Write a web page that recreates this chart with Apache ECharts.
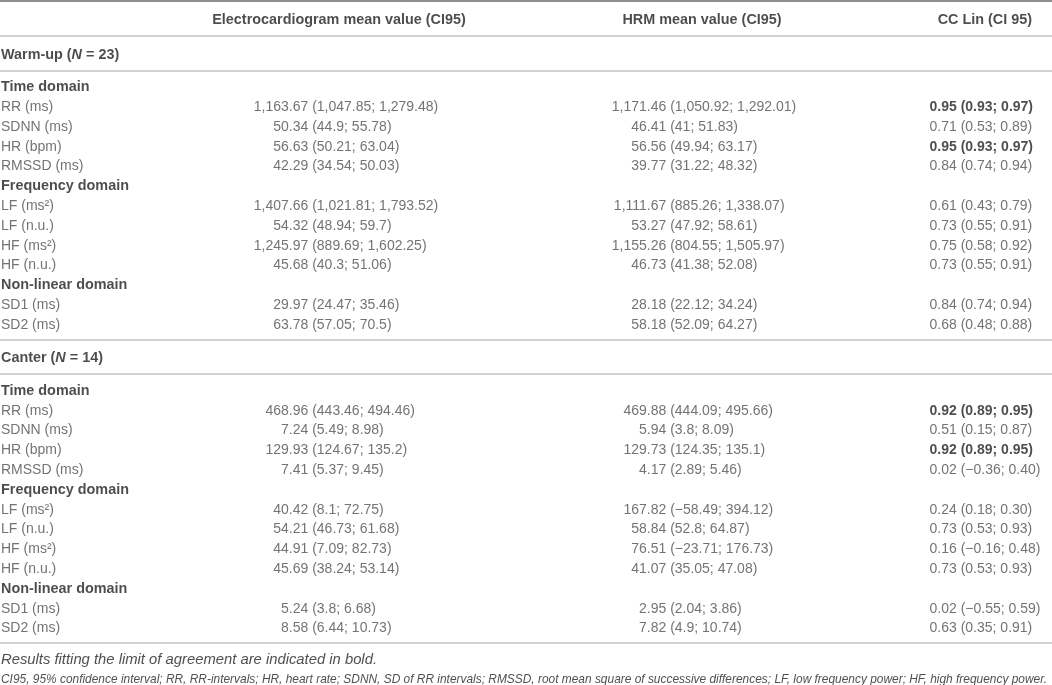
<!DOCTYPE html>
<html>
<head>
<meta charset="utf-8">
<script src="https://cdn.jsdelivr.net/npm/echarts@6/dist/echarts.min.js"></script>
<style>
  html, body { margin: 0; padding: 0; background: #fff; }
  #chart { width: 1052px; height: 685px; }
</style>
</head>
<body>
<div id="chart"></div>
<script>
// ---- table content ----
var columnHeaders = ["", "Electrocardiogram mean value (CI95)", "HRM mean value (CI95)", "CC Lin (CI 95)"];
var sectionNames = ["Warm-up", "Canter"];
var sectionN = [23, 14];
var domainNames = ["Time domain", "Frequency domain", "Non-linear domain"];
var domainParams = [
  ["RR (ms)", "SDNN (ms)", "HR (bpm)", "RMSSD (ms)"],
  ["LF (ms²)", "LF (n.u.)", "HF (ms²)", "HF (n.u.)"],
  ["SD1 (ms)", "SD2 (ms)"]
];

var warmEcg = ["1,163.67 (1,047.85; 1,279.48)", "50.34 (44.9; 55.78)", "56.63 (50.21; 63.04)", "42.29 (34.54; 50.03)",
  "1,407.66 (1,021.81; 1,793.52)", "54.32 (48.94; 59.7)", "1,245.97 (889.69; 1,602.25)", "45.68 (40.3; 51.06)",
  "29.97 (24.47; 35.46)", "63.78 (57.05; 70.5)"];
var warmHrm = ["1,171.46 (1,050.92; 1,292.01)", "46.41 (41; 51.83)", "56.56 (49.94; 63.17)", "39.77 (31.22; 48.32)",
  "1,111.67 (885.26; 1,338.07)", "53.27 (47.92; 58.61)", "1,155.26 (804.55; 1,505.97)", "46.73 (41.38; 52.08)",
  "28.18 (22.12; 34.24)", "58.18 (52.09; 64.27)"];
var warmCcc = ["0.95 (0.93; 0.97)", "0.71 (0.53; 0.89)", "0.95 (0.93; 0.97)", "0.84 (0.74; 0.94)",
  "0.61 (0.43; 0.79)", "0.73 (0.55; 0.91)", "0.75 (0.58; 0.92)", "0.73 (0.55; 0.91)",
  "0.84 (0.74; 0.94)", "0.68 (0.48; 0.88)"];
var warmAgree = [true, false, true, false, false, false, false, false, false, false];

var canterEcg = ["468.96 (443.46; 494.46)", "7.24 (5.49; 8.98)", "129.93 (124.67; 135.2)", "7.41 (5.37; 9.45)",
  "40.42 (8.1; 72.75)", "54.21 (46.73; 61.68)", "44.91 (7.09; 82.73)", "45.69 (38.24; 53.14)",
  "5.24 (3.8; 6.68)", "8.58 (6.44; 10.73)"];
var canterHrm = ["469.88 (444.09; 495.66)", "5.94 (3.8; 8.09)", "129.73 (124.35; 135.1)", "4.17 (2.89; 5.46)",
  "167.82 (−58.49; 394.12)", "58.84 (52.8; 64.87)", "76.51 (−23.71; 176.73)", "41.07 (35.05; 47.08)",
  "2.95 (2.04; 3.86)", "7.82 (4.9; 10.74)"];
var canterCcc = ["0.92 (0.89; 0.95)", "0.51 (0.15; 0.87)", "0.92 (0.89; 0.95)", "0.02 (−0.36; 0.40)",
  "0.24 (0.18; 0.30)", "0.73 (0.53; 0.93)", "0.16 (−0.16; 0.48)", "0.73 (0.53; 0.93)",
  "0.02 (−0.55; 0.59)", "0.63 (0.35; 0.91)"];
var canterAgree = [true, false, true, false, false, false, false, false, false, false];

var footnotes = [
  "Results fitting the limit of agreement are indicated in bold.",
  "CI95, 95% confidence interval; RR, RR-intervals; HR, heart rate; SDNN, SD of RR intervals; RMSSD, root mean square of successive differences; LF, low frequency power; HF, high frequency power."
];

// ---- layout (x in px on a 0..1052 axis, y in table rows) ----
var W = 1052, H = 685, ROW = 19.8;
var COL = { label: 1, ecgDot: 288.8, hrmDot: 646.8, cccDot: 937.3, ecgHead: 339, hrmHead: 702, cccHead: 1032 };
var GAP = { headRule: 0.81, ruleTitle: 0.94, titleRule: 0.81, ruleRow: 0.84, rowRule: 0.74, ruleNote: 0.86, note: 0.96 };
var NOTE_WIDTH = [376, 1046];
var NOTE_SIZE = [14, 13.5];
var FONT = '"Liberation Sans", Helvetica, Arial, sans-serif';
var INK = "#505050", DARK = "#1f1f1f";
var BOLD_SIZE = 14.4;

var measureCtx = document.createElement("canvas").getContext("2d");
function textWidth(str, font) {
  measureCtx.font = font;
  return measureCtx.measureText(str).width;
}

var sections = [
  { ecg: warmEcg, hrm: warmHrm, ccc: warmCcc, agree: warmAgree },
  { ecg: canterEcg, hrm: canterHrm, ccc: canterCcc, agree: canterAgree }
];

var items = [];
var rules = [];
var notes = [];

function text(x, y, str, align, extra) {
  var label = { formatter: str, align: align };
  if (extra) for (var k in extra) label[k] = extra[k];
  items.push({ value: [x, y], label: label });
}

// split a value at its first decimal point so the columns align on it
function decimalCell(anchor, y, str, bold) {
  var i = str.indexOf(".");
  var style = bold ? { fontWeight: "bold", color: DARK } : null;
  text(anchor, y, str.slice(0, i), "right", style);
  text(anchor, y, str.slice(i), "left", style);
}

var boldStyle = { fontWeight: "bold", color: DARK, fontSize: BOLD_SIZE };

var y = 1.01;
rules.push({ yAxis: 0.06, lineStyle: { color: "#8e8e8e", width: 2 } });
text(COL.ecgHead, y, columnHeaders[1], "center", boldStyle);
text(COL.hrmHead, y, columnHeaders[2], "center", boldStyle);
text(COL.cccHead, y, columnHeaders[3], "right", boldStyle);
y += GAP.headRule;
rules.push({ yAxis: y });

sections.forEach(function (sec, s) {
  y += GAP.ruleTitle;
  text(COL.label, y, "{b|" + sectionNames[s] + " (}{bi|N}{b| = " + sectionN[s] + ")}", "left");
  y += GAP.titleRule;
  rules.push({ yAxis: y });
  y += GAP.ruleRow;
  var k = 0;
  domainNames.forEach(function (dom, d) {
    if (d > 0) y += 1;
    text(COL.label, y, dom, "left", boldStyle);
    domainParams[d].forEach(function (p) {
      y += 1;
      text(COL.label, y, p, "left");
      decimalCell(COL.ecgDot, y, sec.ecg[k], false);
      decimalCell(COL.hrmDot, y, sec.hrm[k], false);
      decimalCell(COL.cccDot, y, sec.ccc[k], sec.agree[k]);
      k++;
    });
  });
  y += GAP.rowRule;
  rules.push({ yAxis: y });
});

y += GAP.ruleNote;
footnotes.forEach(function (f, i) {
  if (i > 0) y += GAP.note;
  notes.push([COL.label, y, i]);
});

var chart = echarts.init(document.getElementById("chart"), null, { renderer: "canvas" });
chart.setOption({
  animation: false,
  grid: { left: 0, right: 0, top: 0, bottom: 0 },
  xAxis: { type: "value", min: 0, max: W, show: false },
  yAxis: { type: "value", min: 0, max: H / ROW, inverse: true, show: false },
  series: [{
    type: "scatter",
    symbolSize: 0,
    silent: true,
    clip: false,
    data: items,
    label: {
      show: true,
      position: "inside",
      verticalAlign: "middle",
      fontFamily: FONT,
      fontSize: 14,
      color: INK,
      rich: {
        b: { fontFamily: FONT, fontSize: BOLD_SIZE, fontWeight: "bold", color: DARK },
        bi: { fontFamily: FONT, fontSize: BOLD_SIZE, fontWeight: "bold", fontStyle: "italic", color: DARK }
      }
    },
    markLine: {
      silent: true,
      symbol: ["none", "none"],
      label: { show: false },
      lineStyle: { color: "#c4c4c4", width: 1.5, type: "solid" },
      data: rules
    }
  }, {
    // footnotes, set to the printed line lengths (the long one is condensed)
    type: "custom",
    silent: true,
    clip: false,
    data: notes,
    renderItem: function (params, api) {
      var i = api.value(2);
      var p = api.coord([api.value(0), api.value(1)]);
      var str = footnotes[i];
      var size = NOTE_SIZE[i];
      var sx = NOTE_WIDTH[i] / textWidth(str, "italic " + size + "px " + FONT);
      return {
        type: "text",
        x: p[0],
        y: p[1],
        scaleX: sx,
        style: {
          text: str,
          fontFamily: FONT,
          fontSize: size,
          fontStyle: "italic",
          fill: INK,
          align: "left",
          verticalAlign: "middle"
        }
      };
    }
  }]
});
window.addEventListener("resize", function () { chart.resize(); });
</script>
</body>
</html>
